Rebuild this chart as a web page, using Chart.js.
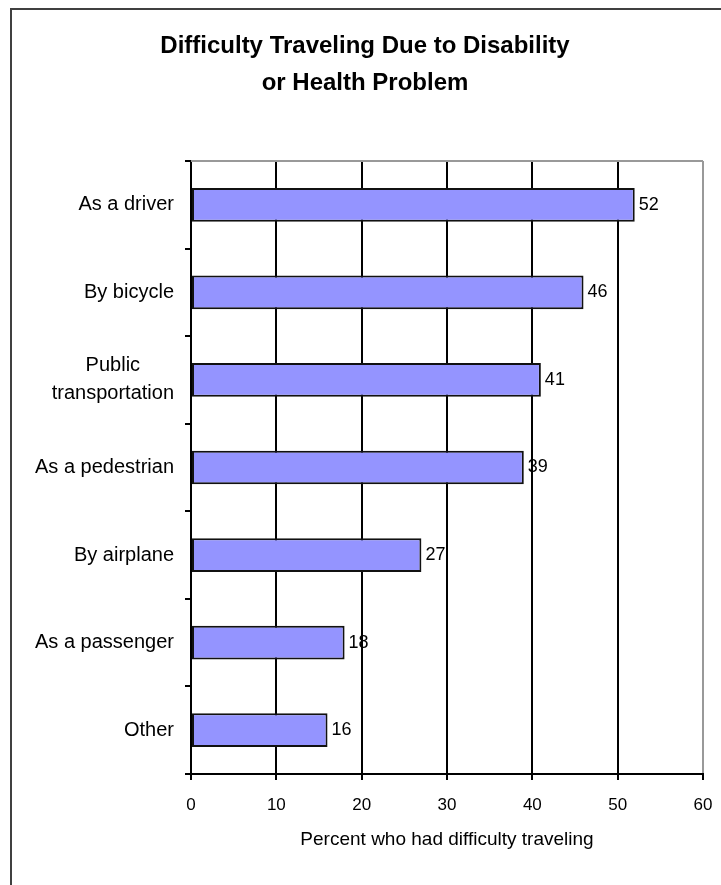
<!DOCTYPE html>
<html>
<head>
<meta charset="utf-8">
<title>Difficulty Traveling Due to Disability or Health Problem</title>
<script src="https://cdn.jsdelivr.net/npm/chart.js@4/dist/chart.umd.min.js"></script>
<style>
    html, body { margin: 0; padding: 0; background: #fff; overflow: hidden; }
    #wrap { width: 721px; height: 885px; }
</style>
</head>
<body>
<div id="wrap"><canvas id="travelChart" width="721" height="885"></canvas></div>
<script>
// --- data ---
const categories = [
    ['As a driver'],
    ['By bicycle'],
    ['Public', 'transportation'],
    ['As a pedestrian'],
    ['By airplane'],
    ['As a passenger'],
    ['Other']
];
const percentValues = [52, 46, 41, 39, 27, 18, 16];
const xTickValues = [0, 10, 20, 30, 40, 50, 60];

const FONT = 'Liberation Sans, Arial, sans-serif';

// outer frame line (left + top), plus the grey top edge of the plot area
const framePlugin = {
    id: 'frameLines',
    beforeDraw(chart) {
        const ctx = chart.ctx;
        ctx.save();
        ctx.fillStyle = '#fff';
        ctx.fillRect(0, 0, chart.width, chart.height);
        ctx.strokeStyle = '#404040';
        ctx.lineWidth = 2;
        ctx.beginPath();
        ctx.moveTo(11, chart.height + 5);
        ctx.lineTo(11, 9);
        ctx.lineTo(chart.width + 5, 9);
        ctx.stroke();
        ctx.restore();
    },
    beforeDatasetsDraw(chart) {
        const { ctx, chartArea } = chart;
        ctx.save();
        ctx.strokeStyle = '#999';
        ctx.lineWidth = 2;
        ctx.beginPath();
        ctx.moveTo(chartArea.left, chartArea.top);
        ctx.lineTo(chartArea.right, chartArea.top);
        ctx.stroke();
        ctx.restore();
    }
};

// category names: right-aligned block, wrapped lines centred on each other
const categoryLabelPlugin = {
    id: 'categoryLabels',
    afterDraw(chart) {
        const ctx = chart.ctx;
        const yScale = chart.scales.y;
        const rightX = yScale.right - 17;
        const lineH = 28;
        ctx.save();
        ctx.font = '20px ' + FONT;
        ctx.fillStyle = '#000';
        ctx.textAlign = 'center';
        ctx.textBaseline = 'middle';
        categories.forEach((lines, i) => {
            const y = yScale.getPixelForTick(i);
            const widest = Math.max(...lines.map(l => ctx.measureText(l).width));
            const cx = rightX - widest / 2;
            const top = y - (lines.length - 1) * lineH / 2;
            lines.forEach((l, j) => ctx.fillText(l, cx, top + j * lineH));
        });
        ctx.restore();
    }
};

// value next to the end of each bar
const valueLabelPlugin = {
    id: 'valueLabels',
    afterDatasetsDraw(chart) {
        const ctx = chart.ctx;
        const meta = chart.getDatasetMeta(0);
        ctx.save();
        ctx.font = '18px ' + FONT;
        ctx.fillStyle = '#000';
        ctx.textAlign = 'left';
        ctx.textBaseline = 'middle';
        meta.data.forEach((bar, i) => {
            ctx.fillText(String(percentValues[i]), bar.x + 4, bar.y);
        });
        ctx.restore();
    }
};

const ctx = document.getElementById('travelChart').getContext('2d');

const travelChart = new Chart(ctx, {
    type: 'bar',
    data: {
        labels: categories.map(c => c.join(' ')),
        datasets: [{
            data: percentValues,
            backgroundColor: '#9494ff',
            borderColor: '#111',
            borderWidth: 2,
            borderSkipped: false,
            categoryPercentage: 1,
            barPercentage: 0.385
        }]
    },
    options: {
        indexAxis: 'y',
        responsive: false,
        animation: false,
        events: [],
        layout: { padding: { left: 27, right: 18, top: 0, bottom: 0 } },
        scales: {
            x: {
                type: 'linear',
                min: 0,
                max: 60,
                afterBuildTicks: scale => { scale.ticks = xTickValues.map(v => ({ value: v })); },
                afterFit: scale => {
                    scale.height = 111;
                    // the end labels fit inside the layout padding already
                    scale.paddingLeft = 0;
                    scale.paddingRight = 0;
                },
                grid: {
                    color: c => (c.tick && c.tick.value === 60 ? '#999' : '#000'),
                    lineWidth: 2,
                    drawTicks: true,
                    tickLength: 6,
                    tickColor: '#000'
                },
                border: { display: true, color: '#000', width: 2 },
                ticks: {
                    color: '#000',
                    padding: 15,
                    font: { family: FONT, size: 17 }
                },
                title: {
                    display: true,
                    text: 'Percent who had difficulty traveling',
                    color: '#000',
                    font: { family: FONT, size: 19 },
                    padding: { top: 0, bottom: 34 }
                }
            },
            y: {
                type: 'category',
                afterFit: scale => { scale.width = 164; },
                grid: {
                    display: true,
                    drawOnChartArea: false,
                    drawTicks: true,
                    tickLength: 6,
                    color: '#000',
                    lineWidth: 2
                },
                border: { display: true, color: '#000', width: 2 },
                ticks: { display: false }
            }
        },
        plugins: {
            legend: { display: false },
            tooltip: { enabled: false },
            title: {
                display: true,
                text: ['Difficulty Traveling Due to Disability', 'or Health Problem'],
                color: '#000',
                font: { family: FONT, size: 24, weight: 'bold', lineHeight: 37 / 24 },
                padding: { top: 27.5, bottom: 59.5 }
            }
        }
    },
    plugins: [framePlugin, categoryLabelPlugin, valueLabelPlugin]
});
</script>
</body>
</html>
